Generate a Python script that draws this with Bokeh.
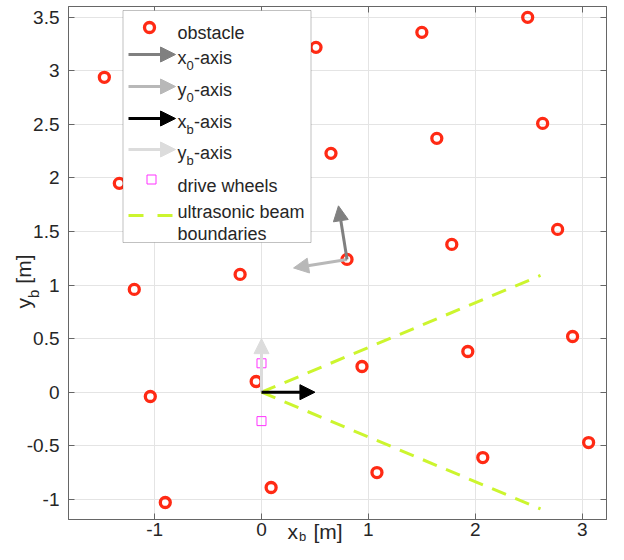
import math
from bokeh.plotting import figure
from bokeh.layouts import column
from bokeh.models import (ColumnDataSource, Arrow, NormalHead, Label, BoxAnnotation,
                          FixedTicker, LinearAxis, Range1d)
from bokeh.embed import file_html
from bokeh.resources import INLINE

# ---------------- data ----------------
obstacle_x = [-1.47, -0.48, 0.51, 1.50, 2.49,
              -1.33, -0.34, 0.65, 1.64, 2.63,
              -1.19, -0.20, 0.80, 1.78, 2.77,
              -1.04, -0.05, 0.94, 1.93, 2.91,
              -0.90, 0.09, 1.08, 2.07, 3.06]
obstacle_y = [2.94, 3.08, 3.22, 3.36, 3.50,
              1.95, 2.09, 2.23, 2.37, 2.51,
              0.96, 1.10, 1.24, 1.38, 1.52,
              -0.04, 0.10, 0.24, 0.38, 0.52,
              -1.03, -0.89, -0.75, -0.61, -0.47]

wheel_x = [0.0, 0.0]
wheel_y = [0.27, -0.27]

beam_x0 = [0.0, 0.0]
beam_y0 = [0.0, 0.0]
beam_x1 = [2.61, 2.61]
beam_y1 = [1.09, -1.09]

x0_axis_start = (0.80, 1.24)
x0_axis_tip = (0.72, 1.74)
y0_axis_start = (0.80, 1.24)
y0_axis_tip = (0.30, 1.16)
xb_axis_start = (0.0, 0.0)
xb_axis_tip = (0.5, 0.0)
yb_axis_start = (0.0, 0.0)
yb_axis_tip = (0.0, 0.5)

x_ticks = [-1, 0, 1, 2, 3]
x_tick_labels = ["-1", "0", "1", "2", "3"]
y_ticks = [-1, -0.5, 0, 0.5, 1, 1.5, 2, 2.5, 3, 3.5]
y_tick_labels = ["-1", "-0.5", "0", "0.5", "1", "1.5", "2", "2.5", "3", "3.5"]

# ---------------- layout ----------------
FONT = "Liberation Sans"
TEXT = "#262626"
AXC = "#666666"
RED = "#ff2a14"
DARK = "#808080"
LIGHT = "#b8b8b8"
BLACK = "#000000"
VLIGHT = "#dcdcdc"
MAGENTA = "#ff33ff"
BEAM = "#ccf52e"

W, H = 608, 544
FL, FT, FR, FB = 68, 6, 606, 519
X_START, X_END = -1.8054, 3.2273
Y_START, Y_END = -1.1886, 3.6013


def dx(px):
    return X_START + (px - FL) / (FR - FL) * (X_END - X_START)


def dy(py):
    return Y_END - (py - FT) / (FB - FT) * (Y_END - Y_START)


p = figure(frame_width=FR - FL, frame_height=FB - FT,
           x_range=Range1d(X_START, X_END), y_range=Range1d(Y_START, Y_END),
           output_backend="svg", toolbar_location=None,
           min_border_left=FL, min_border_right=W - FR, min_border_top=FT,
           min_border_bottom=H - FB, frame_align=False,
           background_fill_color="white", border_fill_color="white",
           outline_line_color=AXC, outline_line_width=1)

for ax, ticks, labels in ((p.xaxis[0], x_ticks, x_tick_labels),
                          (p.yaxis[0], y_ticks, y_tick_labels)):
    ax.ticker = FixedTicker(ticks=ticks)
    ax.major_label_overrides = dict(zip(ticks, labels))
    ax.major_tick_in = 6
    ax.major_tick_out = 0
    ax.minor_tick_line_color = None
    ax.axis_line_color = AXC
    ax.major_tick_line_color = AXC
    ax.major_label_text_font = FONT
    ax.major_label_text_font_size = "19px"
    ax.major_label_text_color = TEXT
p.xaxis.major_label_standoff = 3
p.yaxis.major_label_standoff = 9

for side, ticks in (("above", x_ticks), ("right", y_ticks)):
    ax = LinearAxis(ticker=FixedTicker(ticks=ticks),
                    major_label_overrides={t: "" for t in ticks},
                    major_tick_in=6, major_tick_out=0, major_label_standoff=0,
                    major_label_text_font_size="1px",
                    minor_tick_line_color=None,
                    axis_line_color=AXC, major_tick_line_color=AXC)
    p.add_layout(ax, side)

p.xgrid.ticker = FixedTicker(ticks=x_ticks)
p.ygrid.ticker = FixedTicker(ticks=y_ticks)
p.grid.grid_line_color = "#e4e4e4"
p.grid.grid_line_width = 1

p.segment(x0=beam_x0, y0=beam_y0, x1=beam_x1, y1=beam_y1,
          line_color=BEAM, line_width=3, line_dash="15 10")

p.scatter(obstacle_x, obstacle_y, marker="circle", size=10,
          fill_color=None, line_color=RED, line_width=3.3)

p.scatter(wheel_x, wheel_y, marker="square", size=9,
          fill_color=None, line_color=MAGENTA, line_width=1)


def add_arrow(start, tip, color, level="annotation"):
    src = ColumnDataSource(dict(xs=[start[0]], ys=[start[1]], xe=[tip[0]], ye=[tip[1]]))
    p.add_layout(Arrow(x_start="xs", y_start="ys", x_end="xe", y_end="ye", source=src,
                       line_color=color, line_width=3, level=level,
                       end=NormalHead(size=15, fill_color=color, line_color=color,
                                      line_width=1)))


add_arrow(yb_axis_start, yb_axis_tip, VLIGHT)
add_arrow(xb_axis_start, xb_axis_tip, BLACK)
add_arrow(y0_axis_start, y0_axis_tip, LIGHT)
add_arrow(x0_axis_start, x0_axis_tip, DARK)


def add_text(fig, x, y, text, size, angle=0.0, level="overlay"):
    fig.add_layout(Label(x=x, y=y, text=text, text_font=FONT,
                         text_font_size=f"{size}px", text_color=TEXT,
                         text_align="left", text_baseline="alphabetic",
                         angle=angle, level=level))


p.add_layout(BoxAnnotation(left=dx(122.5), right=dx(310.5), top=dy(10), bottom=dy(242),
                           fill_color="white", fill_alpha=1.0,
                           line_color="#333333", line_width=1, level="annotation"))

p.scatter([dx(149)], [dy(27)], marker="circle", size=10, fill_color=None,
          line_color=RED, line_width=3.3, level="overlay")
add_text(p, dx(177), dy(32), "obstacle", 18)

legend_arrows = [(54, DARK, "x", "0"), (86, LIGHT, "y", "0"),
                 (118, BLACK, "x", "b"), (149, VLIGHT, "y", "b")]
for ay, col, letter, sub in legend_arrows:
    add_arrow((dx(128), dy(ay)), (dx(175), dy(ay)), col, level="overlay")
    add_text(p, dx(177), dy(ay + 3), letter, 18)
    add_text(p, dx(186), dy(ay + 11), sub, 13)
    add_text(p, dx(193.5), dy(ay + 3), "-axis", 18)

p.scatter([dx(151)], [dy(179)], marker="square", size=9, fill_color=None,
          line_color=MAGENTA, line_width=1, level="overlay")
add_text(p, dx(177), dy(185), "drive wheels", 18)

p.segment(x0=[dx(128)], y0=[dy(215)], x1=[dx(172)], y1=[dy(215)],
          line_color=BEAM, line_width=3, line_dash="15 14", level="overlay")
add_text(p, dx(177), dy(211), "ultrasonic beam", 18)
add_text(p, dx(177), dy(233), "boundaries", 18)

# ---------------- axis labels (transparent overlay, canvas px coords) ----------------
ov = figure(frame_width=W, frame_height=H, x_range=Range1d(0, W), y_range=Range1d(H, 0),
            output_backend="svg", toolbar_location=None, title=None,
            x_axis_type=None, y_axis_type=None, frame_align=False,
            min_border=0, min_border_left=0, min_border_right=0,
            min_border_top=0, min_border_bottom=0,
            background_fill_alpha=0, border_fill_alpha=0, outline_line_color=None,
            margin=(-H, 0, 0, 0))

XB = 531
add_text(ov, 287, XB, "x", 21)
add_text(ov, 298.5, XB + 4.5, "b", 13)
add_text(ov, 313, XB, "[m]", 21)

add_text(ov, 23, 308, "y", 21, angle=math.pi / 2)
add_text(ov, 33, 297.5, "b", 15, angle=math.pi / 2)
add_text(ov, 23, 283.2, "[m]", 21, angle=math.pi / 2)

layout = column(p, ov, spacing=0)
open("out.html", "w").write(file_html(layout, INLINE))
